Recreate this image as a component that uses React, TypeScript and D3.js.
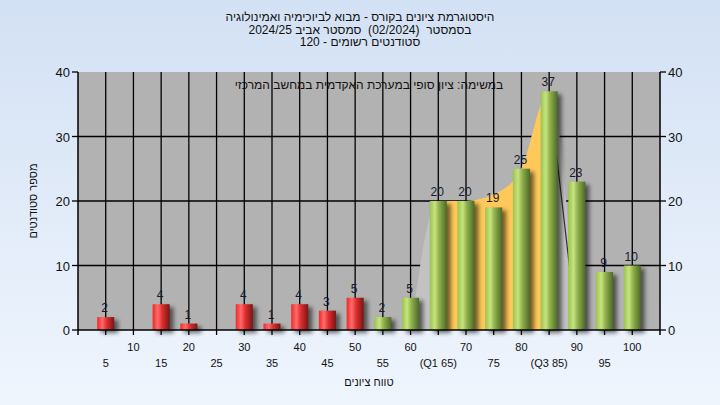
import React from "react";
import * as d3 from "d3";

const grades = [5, 10, 15, 20, 25, 30, 35, 40, 45, 50, 55, 60, 65, 70, 75, 80, 85, 90, 95, 100];
const counts = [2, 0, 4, 1, 0, 4, 1, 4, 3, 5, 2, 5, 20, 20, 19, 25, 37, 23, 9, 10];
const tickNames: Record<number, string> = { 65: "(Q1 65)", 85: "(Q3 85)" };
const yTicks = [0, 10, 20, 30, 40];

// smoothed distribution drawn behind the bars
const curveX = [60, 65, 70, 75, 80, 85, 90];
const curveY = [0, 20, 20, 21, 25, 37, 0];
const q1 = 65;
const q3 = 85;

const titleLines = [
  "היסטוגרמת ציונים בקורס - מבוא לביוכימיה ואמינולוגיה",
  "בסמסטר  (02/2024)  סמסטר אביב 2024/25",
  "סטודנטים רשומים - 120",
];
const note = "במשימה: ציון סופי במערכת האקדמית במחשב המרכזי";
const xTitle = "טווח ציונים";
const yTitle = "מספר סטודנטים";

const W = 720;
const H = 405;
const plot = { left: 78, right: 660, top: 72, bottom: 330 };
const font = "'Liberation Sans', Arial, sans-serif";

export default function App() {
  const x = d3.scaleLinear().domain([0, 105]).range([plot.left, plot.right]);
  const y = d3.scaleLinear().domain([0, 40]).range([plot.bottom, plot.top]);
  const barW = 17;

  const pts = curveX.map((g, i) => ({ g, v: curveY[i] }));
  const area = d3
    .area<{ g: number; v: number }>()
    .x((d) => x(d.g))
    .y0(y(0))
    .y1((d) => y(d.v))
    .curve(d3.curveMonotoneX);
  const line = d3
    .line<{ g: number; v: number }>()
    .x((d) => x(d.g))
    .y((d) => y(d.v))
    .curve(d3.curveMonotoneX);
  const areaPath = area(pts) || "";
  const tailPath = line(pts.filter((d) => d.g >= q3)) || "";

  return (
    <svg width={W} height={H} style={{ position: "absolute", left: 0, top: 0 }}>
      <defs>
        <linearGradient id="bg" x1="0" y1="0" x2="0" y2="1">
          <stop offset="0" stopColor="#d3e1f4" />
          <stop offset="1" stopColor="#eff5fd" />
        </linearGradient>
        <linearGradient id="red" x1="0" y1="0" x2="1" y2="0">
          <stop offset="0" stopColor="#f02828" />
          <stop offset="0.3" stopColor="#ff6c6c" />
          <stop offset="0.55" stopColor="#e03030" />
          <stop offset="1" stopColor="#7a1414" />
        </linearGradient>
        <linearGradient id="green" x1="0" y1="0" x2="1" y2="0">
          <stop offset="0" stopColor="#9cc250" />
          <stop offset="0.3" stopColor="#c6e47e" />
          <stop offset="0.55" stopColor="#90b04c" />
          <stop offset="1" stopColor="#4c6a26" />
        </linearGradient>
        <filter id="blur" x="-50%" y="-50%" width="200%" height="200%">
          <feGaussianBlur stdDeviation="2.2" />
        </filter>
        <clipPath id="mid">
          <rect x={x(q1)} y={plot.top} width={x(q3) - x(q1)} height={plot.bottom - plot.top} />
        </clipPath>
      </defs>
      <rect width={W} height={H} fill="url(#bg)" />
      <rect
        x={plot.left}
        y={plot.top}
        width={plot.right - plot.left}
        height={plot.bottom - plot.top}
        fill="#b2b2b2"
      />
      {/* grid */}
      {grades.map((g) => (
        <line key={g} x1={x(g)} x2={x(g)} y1={plot.top} y2={plot.bottom} stroke="#000" strokeWidth={1.3} />
      ))}
      {yTicks.slice(1, -1).map((t) => (
        <line key={t} x1={plot.left} x2={plot.right} y1={y(t)} y2={y(t)} stroke="#000" strokeWidth={1.3} />
      ))}
      {/* distribution area */}
      <path d={areaPath} fill="#c2c2c2" />
      <path d={areaPath} fill="#ffc95a" clipPath="url(#mid)" />
      <path d={tailPath} fill="none" stroke="#333" strokeWidth={1.2} />
      <text x={(plot.left + plot.right) / 2} y={89} textAnchor="middle" fontFamily={font} fontSize={12} fill="#111">
        {note}
      </text>
      {/* bar shadows */}
      {counts.map((c, i) =>
        c > 0 ? (
          <rect
            key={"s" + i}
            x={x(grades[i]) - barW / 2 + 4}
            y={y(c) + 3}
            width={barW}
            height={y(0) - y(c)}
            fill="#000"
            opacity={0.55}
            filter="url(#blur)"
          />
        ) : null
      )}
      {/* bars */}
      {counts.map((c, i) =>
        c > 0 ? (
          <rect
            key={"b" + i}
            x={x(grades[i]) - barW / 2}
            y={y(c)}
            width={barW}
            height={y(0) - y(c)}
            fill={grades[i] <= 50 ? "url(#red)" : "url(#green)"}
          />
        ) : null
      )}
      {counts.map((c, i) =>
        c > 0 ? (
          <text
            key={"v" + i}
            x={x(grades[i]) - 1}
            y={y(c) - 5}
            textAnchor="middle"
            fontFamily={font}
            fontSize={12}
            fill="#1a1a2a"
          >
            {c}
          </text>
        ) : null
      )}
      {/* axes */}
      <line x1={plot.left} x2={plot.right} y1={plot.bottom} y2={plot.bottom} stroke="#000" strokeWidth={1.5} />
      <line x1={plot.left} x2={plot.left} y1={plot.top} y2={plot.bottom + 5} stroke="#000" strokeWidth={1.5} />
      <line x1={plot.right} x2={plot.right} y1={plot.top} y2={plot.bottom + 5} stroke="#000" strokeWidth={1.5} />
      {yTicks.map((t) => (
        <g key={t}>
          <line x1={plot.left - 6} x2={plot.left} y1={y(t)} y2={y(t)} stroke="#000" strokeWidth={1.3} />
          <line x1={plot.right} x2={plot.right + 6} y1={y(t)} y2={y(t)} stroke="#000" strokeWidth={1.3} />
          <text x={plot.left - 8} y={y(t) + 5} textAnchor="end" fontFamily={font} fontSize={13} fill="#111">
            {t}
          </text>
          <text x={plot.right + 8} y={y(t) + 5} textAnchor="start" fontFamily={font} fontSize={13} fill="#111">
            {t}
          </text>
        </g>
      ))}
      {grades.map((g, i) => (
        <g key={"x" + g}>
          <line x1={x(g)} x2={x(g)} y1={plot.bottom} y2={plot.bottom + 5} stroke="#000" strokeWidth={1.3} />
          <text
            x={x(g)}
            y={i % 2 === 1 ? 351 : 367}
            textAnchor="middle"
            fontFamily={font}
            fontSize={11}
            fill="#111"
          >
            {tickNames[g] ?? String(g)}
          </text>
        </g>
      ))}
      <text x={(plot.left + plot.right) / 2} y={386} textAnchor="middle" fontFamily={font} fontSize={11} fill="#111">
        {xTitle}
      </text>
      <text
        transform={`translate(37,${(plot.top + plot.bottom) / 2}) rotate(-90)`}
        textAnchor="middle"
        fontFamily={font}
        fontSize={11}
        fill="#111"
      >
        {yTitle}
      </text>
      {titleLines.map((t, i) => (
        <text
          key={i}
          x={W / 2}
          y={21 + i * 12.5}
          textAnchor="middle"
          fontFamily={font}
          fontSize={12}
          fill="#111"
          style={{ whiteSpace: "pre" }}
        >
          {t}
        </text>
      ))}
    </svg>
  );
}
